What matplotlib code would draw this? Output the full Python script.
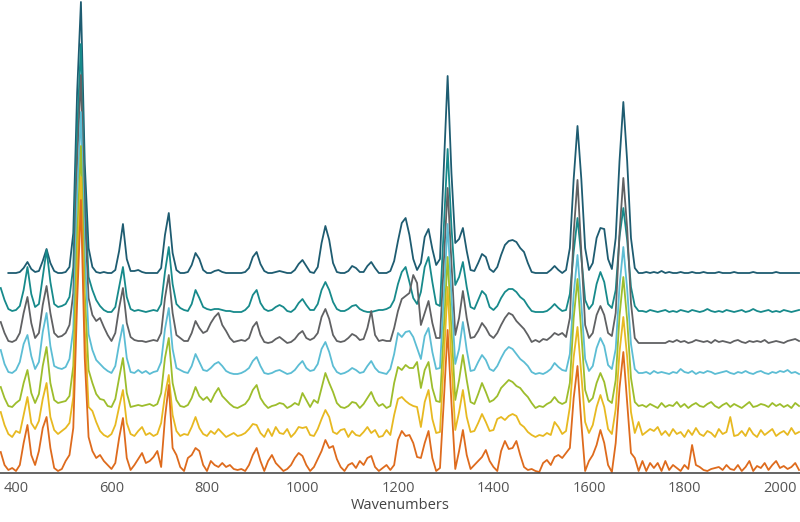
import numpy as np
import matplotlib
matplotlib.use("Agg")
import matplotlib.pyplot as plt

plt.rcParams['font.family'] = ['Open Sans', 'DejaVu Sans']

# shared wavenumber grid (cm-1)
wavenumbers = np.arange(368, 2041, 8)

# intensities of each spectrum above its own baseline
dark_teal = [
    np.nan, np.nan, 0, 0, 0, 1, 5, 11, 4, 1,
    2, 12, 24, 10, 2, 0, 0, 1, 6, 40,
    180, 271, 110, 25, 6, 1, 0, 1, 0, 0,
    3, 22, 49, 14, 2, 2, 3, 1, 0, 0,
    0, 0, 5, 38, 60, 20, 3, 0, 0, 1,
    8, 20, 14, 3, 0, 0, 2, 3, 1, 0,
    0, 0, 0, 0, 1, 5, 16, 21, 9, 2,
    0, 0, 1, 2, 1, 0, 0, 3, 9, 13,
    7, 1, 0, 6, 30, 47, 33, 10, 1, 0,
    0, 2, 7, 5, 1, 1, 7, 11, 5, 0,
    0, 0, 2, 12, 32, 50, 55, 38, 14, 3,
    10, 36, 44, 24, 8, 14, 105, 197, 100, 30,
    34, 45, 22, 3, 2, 10, 19, 16, 4, 1,
    6, 18, 28, 32, 33, 31, 25, 21, 10, 1,
    0, 0, 0, 0, 3, 7, 3, 0, 3, 25,
    94, 147, 94, 25, 3, 10, 35, 45, 44, 14,
    4, 35, 112, 171, 112, 35, 5, 0, 0, 1,
    0, 1, 0, 2, 0, 1, 0, 0, 1, 0,
    0, 1, 0, 0, 1, 0, 0, 0, 1, 0,
    0, 0, 1, 0, 0, 0, 0, 1, 0, 0,
    0, 0, 0, 1, 0, 0, 0, 0, 0, 0,
]
teal = [
    24, 12, 3, 1, 2, 6, 22, 45, 18, 5,
    8, 35, 62, 30, 8, 5, 6, 8, 15, 45,
    180, 268, 120, 35, 22, 12, 6, 2, 0, 0,
    5, 25, 45, 15, 3, 1, 2, 1, 0, 1,
    2, 1, 8, 40, 65, 28, 8, 4, 2, 1,
    8, 22, 14, 5, 3, 2, 3, 3, 2, 1,
    1, 0, 0, 0, 2, 6, 17, 22, 9, 3,
    1, 2, 5, 7, 5, 1, 0, 3, 9, 13,
    7, 2, 2, 8, 22, 30, 22, 10, 3, 1,
    1, 3, 6, 7, 3, 1, 0, 0, 1, 2,
    2, 3, 5, 12, 28, 40, 45, 30, 14, 8,
    20, 45, 55, 30, 8, 6, 85, 163, 85, 27,
    35, 50, 25, 5, 3, 12, 21, 17, 5, 2,
    6, 14, 20, 23, 23, 20, 15, 12, 6, 1,
    0, 0, 0, 1, 4, 8, 4, 1, 2, 18,
    60, 94, 55, 12, 3, 8, 28, 40, 30, 8,
    4, 22, 75, 104, 72, 25, 6, 1, 1, 0,
    2, 1, 0, 1, 2, 0, 1, 0, 2, 1,
    0, 2, 1, 0, 1, 3, 1, 0, 1, 0,
    2, 1, 0, 1, 2, 0, 1, 3, 1, 0,
    1, 2, 0, 1, 0, 2, 1, 0, 1, 2,
]
gray = [
    21, 10, 2, 1, 3, 10, 30, 46, 20, 5,
    10, 38, 57, 30, 10, 6, 7, 10, 18, 50,
    180, 268, 130, 45, 28, 22, 25, 16, 8, 2,
    10, 35, 55, 20, 6, 3, 2, 2, 1, 2,
    3, 2, 10, 45, 68, 30, 8, 5, 2, 2,
    10, 22, 15, 10, 12, 20, 26, 30, 18, 12,
    5, 1, 2, 3, 2, 5, 16, 21, 8, 1,
    0, 1, 4, 6, 3, 0, 1, 4, 9, 12,
    5, 3, 5, 10, 26, 34, 24, 8, 2, 1,
    2, 5, 9, 7, 3, 4, 15, 32, 8, 2,
    3, 2, 2, 15, 32, 44, 47, 50, 68, 60,
    18, 30, 42, 20, 5, 5, 80, 155, 80, 8,
    25, 52, 25, 5, 6, 12, 20, 15, 8, 5,
    10, 18, 25, 30, 28, 22, 18, 14, 8, 1,
    3, 1, 4, 3, 6, 10, 8, 10, 6, 25,
    110, 163, 90, 18, 5, 10, 28, 37, 28, 10,
    7, 30, 110, 165, 115, 40, 5, 0, 0, 0,
    0, 0, 0, 0, 0, 2, 1, 3, 1, 2,
    0, 1, 3, 2, 1, 2, 0, 3, 1, 2,
    1, 0, 2, 3, 1, 0, 2, 1, 2, 1,
    3, 0, 1, 2, 1, 0, 2, 3, 4, 2,
]
light_blue = [
    24, 10, 2, 1, 4, 12, 30, 39, 18, 5,
    12, 42, 61, 28, 8, 6, 5, 7, 15, 45,
    175, 262, 120, 40, 24, 14, 10, 6, 3, 1,
    8, 30, 49, 16, 2, 1, 4, 1, 3, 0,
    2, 3, 12, 45, 66, 25, 6, 4, 2, 1,
    8, 20, 12, 4, 3, 6, 10, 12, 8, 3,
    1, 0, 0, 1, 3, 6, 13, 17, 8, 1,
    0, 1, 3, 4, 2, 0, 1, 4, 9, 13,
    6, 3, 4, 10, 25, 32, 22, 8, 2, 0,
    1, 3, 6, 4, 1, 2, 8, 13, 6, 2,
    1, 0, 5, 20, 41, 37, 42, 43, 37, 26,
    15, 38, 46, 22, 5, 6, 78, 150, 78, 10,
    25, 52, 24, 3, 4, 12, 19, 14, 5, 3,
    8, 16, 23, 27, 25, 20, 15, 12, 8, 2,
    0, 1, 0, 2, 5, 11, 7, 4, 3, 20,
    80, 119, 70, 15, 3, 8, 26, 36, 28, 9,
    5, 25, 88, 127, 85, 30, 5, 1, 1, 2,
    0, 3, 1, 2, 1, 0, 2, 1, 5, 2,
    1, 3, 0, 2, 1, 3, 2, 0, 1, 2,
    3, 1, 0, 2, 1, 3, 1, 0, 2, 3,
    1, 0, 2, 1, 3, 2, 4, 1, 2, 0,
]
green = [
    21, 10, 2, 1, 5, 8, 25, 38, 15, 5,
    14, 42, 61, 25, 8, 5, 6, 7, 12, 42,
    170, 262, 115, 38, 25, 14, 9, 8, 2, 1,
    9, 30, 50, 15, 1, 2, 3, 2, 3, 4,
    2, 4, 15, 50, 70, 25, 8, 2, 1, 3,
    10, 21, 12, 8, 11, 6, 14, 20, 12, 8,
    4, 1, 0, 2, 4, 9, 18, 23, 10, 4,
    0, 2, 3, 5, 4, 0, 2, 5, 3, 15,
    8, 1, 8, 5, 20, 35, 25, 16, 5, 1,
    0, 2, 6, 5, 0, 4, 10, 16, 7, 2,
    4, 0, 2, 25, 41, 38, 43, 40, 40, 46,
    20, 38, 46, 20, 7, 6, 78, 151, 78, 8,
    28, 53, 28, 6, 4, 14, 25, 16, 6, 8,
    12, 20, 24, 28, 26, 22, 20, 15, 11, 5,
    0, 2, 1, 4, 6, 11, 6, 4, 6, 25,
    90, 129, 75, 18, 6, 10, 25, 35, 26, 8,
    5, 28, 92, 131, 88, 30, 6, 2, 3, 1,
    4, 2, 0, 5, 1, 3, 2, 6, 1, 4,
    0, 3, 5, 2, 1, 4, 6, 2, 0, 3,
    5, 1, 4, 2, 0, 3, 6, 1, 2, 4,
    3, 1, 5, 2, 4, 1, 3, 0, 5, 2,
]
yellow = [
    25, 12, 3, 0, 6, 4, 22, 40, 14, 8,
    16, 38, 54, 20, 7, 3, 6, 9, 14, 40,
    165, 260, 110, 30, 26, 15, 6, 2, 0, 3,
    12, 30, 47, 14, 3, 1, 6, 10, 2, 4,
    1, 3, 14, 42, 62, 22, 6, 1, 3, 2,
    10, 20, 9, 3, 1, 6, 3, 8, 4, 0,
    2, 4, 1, 2, 4, 8, 13, 12, 4, 0,
    8, 1, 10, 4, 3, 8, 0, 4, 10, 9,
    10, 2, 1, 8, 18, 27, 20, 5, 3, 7,
    8, 0, 6, 2, 1, 5, 10, 4, 7, 0,
    1, 7, 2, 22, 38, 40, 36, 33, 31, 30,
    10, 35, 47, 18, 4, 5, 78, 150, 75, 7,
    25, 47, 20, 5, 6, 14, 23, 15, 6, 7,
    18, 20, 17, 21, 23, 21, 13, 10, 5, 2,
    0, 2, 1, 4, 2, 15, 10, 3, 6, 30,
    80, 110, 62, 15, 4, 12, 30, 42, 30, 8,
    3, 28, 85, 120, 80, 25, 4, 15, 2, 5,
    8, 6, 10, 2, 6, 1, 8, 3, 5, 0,
    7, 2, 9, 3, 1, 6, 4, 0, 8, 3,
    5, 20, 1, 2, 6, 1, 9, 3, 0, 7,
    2, 5, 8, 1, 4, 6, 2, 9, 3, 5,
]
orange = [
    21, 8, 3, 5, 2, 8, 30, 48, 18, 8,
    22, 45, 56, 25, 5, 2, 4, 12, 18, 45,
    170, 273, 115, 36, 22, 15, 18, 12, 8, 4,
    10, 35, 55, 15, 3, 8, 14, 20, 10, 12,
    16, 22, 6, 55, 88, 25, 18, 6, 2, 15,
    18, 25, 22, 8, 2, 12, 8, 6, 10, 6,
    8, 4, 3, 4, 2, 8, 18, 25, 12, 2,
    12, 18, 10, 6, 2, 4, 8, 15, 20, 17,
    8, 2, 6, 14, 22, 33, 25, 27, 14, 6,
    2, 8, 10, 5, 12, 8, 15, 17, 6, 2,
    5, 8, 3, 8, 33, 42, 37, 38, 30, 16,
    15, 30, 42, 15, 2, 5, 72, 143, 70, 4,
    22, 43, 18, 4, 8, 12, 16, 23, 12, 6,
    2, 22, 32, 24, 25, 32, 18, 6, 3, 4,
    2, 1, 10, 13, 8, 16, 18, 15, 20, 25,
    75, 107, 50, 2, 12, 18, 28, 43, 30, 8,
    1, 30, 85, 121, 70, 20, 15, 2, 12, 2,
    10, 5, 10, 2, 12, 3, 8, 5, 2, 8,
    4, 28, 8, 6, 3, 2, 4, 5, 6, 3,
    8, 4, 3, 8, 2, 6, 12, 2, 7, 5,
    10, 3, 8, 12, 5, 7, 4, 6, 10, 3,
]

series = [dark_teal, teal, gray, light_blue, green, yellow, orange]
offsets = [200, 161, 130, 99, 65, 36, 0]
colors = ['#1e5c71', '#178a8b', '#606163', '#5cbdd4', '#9dbd2c', '#e7b921', '#de6b1d']
tick_values = [400, 600, 800, 1000, 1200, 1400, 1600, 1800, 2000]

fig = plt.figure(figsize=(8, 5.22), dpi=100)
ax = fig.add_axes([0, 49 / 522, 1, 473 / 522])

for vals, off, col in zip(series, offsets, colors):
    y = np.asarray(vals, dtype=float)
    n = min(len(y), len(wavenumbers))
    ax.plot(wavenumbers[:n], y[:n] + off, color=col, lw=1.3,
            solid_joinstyle='round', clip_on=True)

ax.set_xlim(366.5, 2042)
ax.set_ylim(0, 473)
for s in ['top', 'left', 'right']:
    ax.spines[s].set_visible(False)
ax.spines['bottom'].set_color('#3a3a3a')
ax.spines['bottom'].set_linewidth(1.1)
ax.set_yticks([])
ax.set_xticks(tick_values)
ax.set_xticklabels([str(t) for t in tick_values])
ax.tick_params(axis='x', length=0, pad=6, labelsize=10.5, labelcolor='#555555')
ax.set_xlabel('Wavenumbers', fontsize=10.5, color='#444444', labelpad=1)

fig.savefig('out.png', dpi=100)
